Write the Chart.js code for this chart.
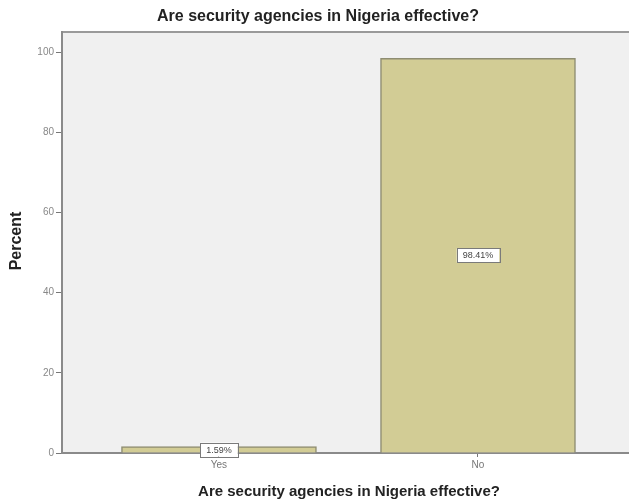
<!DOCTYPE html>
<html>
<head>
<meta charset="utf-8">
<script src="https://cdn.jsdelivr.net/npm/chart.js@4"></script>
<style>
  html, body { margin: 0; padding: 0; background: #ffffff; }
  #wrap { width: 629px; height: 500px; }
</style>
</head>
<body>
<div id="wrap"><canvas id="chart" width="629" height="500"></canvas></div>
<script>
// dados do gráfico
const chartTitle = "Are security agencies in Nigeria effective?";
const axisTitleX = "Are security agencies in Nigeria effective?";
const axisTitleY = "Percent";
const categories = ["Yes", "No"];
const percents = [1.59, 98.41];
const yTicks = [0, 20, 40, 60, 80, 100];

// fundo cinza da área do gráfico e linha do topo
const plotBackground = {
    id: "plotBackground",
    beforeDraw(chart) {
        const { ctx, chartArea } = chart;
        ctx.save();
        ctx.fillStyle = "#f0f0f0";
        ctx.fillRect(chartArea.left, chartArea.top, chartArea.right - chartArea.left, chartArea.bottom - chartArea.top);
        ctx.strokeStyle = "#9a9a9a";
        ctx.lineWidth = 2;
        ctx.beginPath();
        ctx.moveTo(chartArea.left, chartArea.top);
        ctx.lineTo(chartArea.right, chartArea.top);
        ctx.stroke();
        ctx.restore();
    },
};

// rótulos de percentual dentro das barras e títulos
const barLabels = {
    id: "barLabels",
    afterDraw(chart) {
        const { ctx } = chart;
        const meta = chart.getDatasetMeta(0);
        ctx.save();
        ctx.font = "9px Arial, 'Liberation Sans', sans-serif";
        ctx.textAlign = "center";
        ctx.textBaseline = "middle";
        meta.data.forEach((bar, i) => {
            const text = percents[i].toFixed(2) + "%";
            const cx = bar.x;
            const cy = (bar.y + bar.base) / 2;
            const w = ctx.measureText(text).width + 12;
            const h = 14;
            ctx.fillStyle = "#ffffff";
            ctx.fillRect(cx - w / 2, cy - h / 2, w, h);
            ctx.strokeStyle = "#7a7a7a";
            ctx.lineWidth = 1;
            ctx.strokeRect(Math.round(cx - w / 2) + 0.5, Math.round(cy - h / 2) + 0.5, Math.round(w), h);
            ctx.fillStyle = "#444444";
            ctx.fillText(text, cx, cy + 0.5);
        });

        ctx.fillStyle = "#222222";
        ctx.font = "bold 16px Arial, 'Liberation Sans', sans-serif";
        ctx.fillText(chartTitle, 318, 17);
        ctx.font = "bold 15px Arial, 'Liberation Sans', sans-serif";
        ctx.fillText(axisTitleX, 349, 492);

        ctx.translate(17, 241);
        ctx.rotate(-Math.PI / 2);
        ctx.font = "bold 16px Arial, 'Liberation Sans', sans-serif";
        ctx.fillText(axisTitleY, 0, 0);
        ctx.restore();
    },
};

new Chart(document.getElementById("chart"), {
    type: "bar",
    data: {
        datasets: [{
            label: axisTitleY,
            data: percents.map((v, i) => ({ x: i, y: v })),
            backgroundColor: "#d2cc95",
            borderColor: "#8e8d72",
            borderWidth: 1.5,
            barThickness: 195,
        }],
    },
    options: {
        responsive: false,
        animation: false,
        layout: { padding: { top: 32, left: 0, right: 0, bottom: 0 } },
        plugins: {
            legend: { display: false },
            title: { display: false },
            tooltip: { enabled: false },
        },
        scales: {
            x: {
                type: "linear",
                offset: false,
                min: -0.606,
                max: 1.583,
                afterBuildTicks(axis) {
                    axis.ticks = categories.map((c, i) => ({ value: i }));
                },
                afterFit(axis) { axis.height = 47; },
                ticks: {
                    callback: (v) => categories[v],
                    color: "#777777",
                    font: { size: 10, family: "Arial" },
                    padding: 2,
                    maxRotation: 0,
                },
                grid: {
                    offset: false,
                    drawOnChartArea: false,
                    tickLength: 4,
                    tickColor: "#777777",
                },
                border: { color: "#8a8a8a", width: 2 },
            },
            y: {
                min: 0,
                max: 105,
                afterBuildTicks(axis) {
                    axis.ticks = yTicks.map((v) => ({ value: v }));
                },
                afterFit(axis) { axis.width = 62; },
                ticks: {
                    color: "#888888",
                    font: { size: 10, family: "Arial" },
                    padding: 2,
                },
                grid: {
                    drawOnChartArea: false,
                    tickLength: 6,
                    tickColor: "#777777",
                },
                border: { color: "#8a8a8a", width: 2 },
            },
        },
    },
    plugins: [plotBackground, barLabels],
});
</script>
</body>
</html>
